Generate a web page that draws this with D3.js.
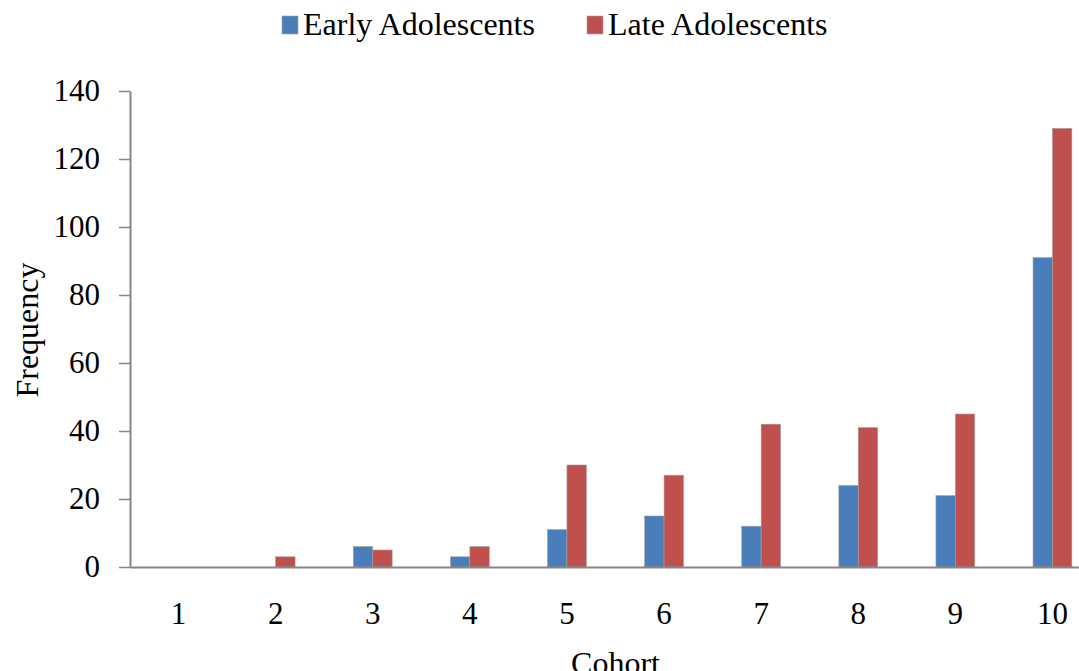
<!DOCTYPE html>
<html>
<head>
<meta charset="utf-8">
<script src="https://cdn.jsdelivr.net/npm/d3@7"></script>
<style>
  body { margin: 0; background: #fff; }
  svg { display: block; font-family: "Liberation Serif", "Times New Roman", serif; }
</style>
</head>
<body>
<svg></svg>
<script>
// Chart data
const cohorts = ["1", "2", "3", "4", "5", "6", "7", "8", "9", "10"];
const seriesNames = ["Early Adolescents", "Late Adolescents"];
const earlyValues = [0, 0, 6, 3, 11, 15, 12, 24, 21, 91];
const lateValues = [0, 3, 5, 6, 30, 27, 42, 41, 45, 129];
const yTicks = [0, 20, 40, 60, 80, 100, 120, 140];
const colors = ["#4a7ebb", "#c0504d"];

const width = 1079, height = 671;
const svg = d3.select("svg").attr("width", width).attr("height", height);

// Plot area (the right side runs off the picture, like the original)
const plotLeft = 130, plotRight = 1101, plotTop = 91, plotBottom = 567;

const x0 = d3.scaleBand().domain(cohorts).range([plotLeft, plotRight]);
const x1 = d3.scaleBand().domain(seriesNames)
    .range([x0.bandwidth() * 0.3, x0.bandwidth() * 0.7]);
const y = d3.scaleLinear().domain([0, 140]).range([plotBottom, plotTop]);

const rows = cohorts.map((c, i) => ({ cohort: c, values: [earlyValues[i], lateValues[i]] }));

// Bars
const groups = svg.append("g").selectAll("g")
    .data(rows).join("g")
    .attr("transform", d => `translate(${x0(d.cohort)},0)`);

groups.selectAll("rect")
    .data(d => d.values.map((v, k) => ({ name: seriesNames[k], value: v, k })).filter(d => d.value > 0))
    .join("rect")
    .attr("x", d => x1(d.name))
    .attr("y", d => y(d.value))
    .attr("width", x1.bandwidth())
    .attr("height", d => y(0) - y(d.value))
    .attr("fill", d => colors[d.k])
    .attr("stroke", "#a0a0a0")
    .attr("stroke-width", 0.6);

// Y axis
const yAxis = svg.append("g")
    .attr("transform", `translate(${plotLeft},0)`)
    .call(d3.axisLeft(y).tickValues(yTicks).tickSize(11).tickSizeOuter(0).tickPadding(19));
yAxis.select(".domain").attr("stroke", "#868686").attr("stroke-width", 2);
yAxis.selectAll(".tick line").attr("stroke", "#868686").attr("stroke-width", 1.5);
yAxis.selectAll("text").attr("font-size", 31).attr("font-family", "Liberation Serif").attr("fill", "#000");

// X axis
const xAxis = svg.append("g")
    .attr("transform", `translate(0,${plotBottom})`)
    .call(d3.axisBottom(x0).tickSize(0).tickPadding(35));
xAxis.select(".domain").attr("stroke", "#868686").attr("stroke-width", 2);
xAxis.selectAll("text").attr("font-size", 31).attr("font-family", "Liberation Serif").attr("fill", "#000");

// Axis titles
svg.append("text")
    .attr("transform", `translate(38,330) rotate(-90)`)
    .attr("text-anchor", "middle")
    .attr("font-size", 32)
    .text("Frequency");

svg.append("text")
    .attr("x", (plotLeft + plotRight) / 2)
    .attr("y", 674)
    .attr("text-anchor", "middle")
    .attr("font-size", 32)
    .text("Cohort");

// Legend
const legendX = [282, 587];
const legend = svg.append("g").selectAll("g")
    .data(seriesNames).join("g")
    .attr("transform", (d, i) => `translate(${legendX[i]},0)`);
legend.append("rect")
    .attr("x", 0).attr("y", 16)
    .attr("width", 16).attr("height", 18)
    .attr("fill", (d, i) => colors[i])
    .attr("stroke", "#a0a0a0").attr("stroke-width", 0.6);
legend.append("text")
    .attr("x", 21).attr("y", 35)
    .attr("font-size", 32)
    .text(d => d);
</script>
</body>
</html>
